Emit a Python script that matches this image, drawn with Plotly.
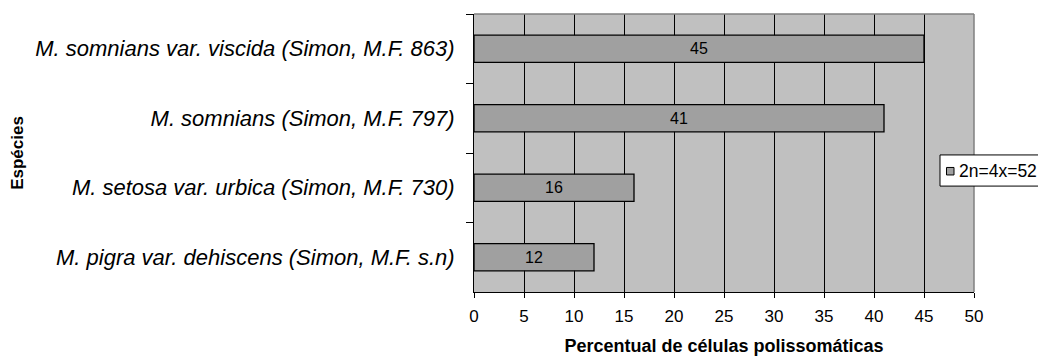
import plotly.graph_objects as go

# Species (top to bottom) and percentage of polysomatic cells
species = [
    "M. somnians var. viscida (Simon, M.F. 863)",
    "M. somnians (Simon, M.F. 797)",
    "M. setosa var. urbica (Simon, M.F. 730)",
    "M. pigra var. dehiscens (Simon, M.F. s.n)",
]
percent = [45, 41, 16, 12]
series_name = "2n=4x=52"
x_ticks = [0, 5, 10, 15, 20, 25, 30, 35, 40, 45, 50]

FONT = "Arial, Liberation Sans, sans-serif"

fig = go.Figure(
    go.Bar(
        y=species,
        x=percent,
        orientation="h",
        name=series_name,
        width=0.39,
        marker=dict(color="#a0a0a0", line=dict(color="#000000", width=1.3)),
        text=[str(v) for v in percent],
        textposition="inside",
        insidetextanchor="middle",
        textangle=0,
        textfont=dict(family=FONT, size=16, color="#000000"),
        showlegend=False,
    )
)

fig.update_layout(
    width=1038,
    height=361,
    margin=dict(l=474, r=64, t=14, b=69, autoexpand=False),
    paper_bgcolor="#ffffff",
    plot_bgcolor="#c0c0c0",
    font=dict(family=FONT, color="#000000"),
    xaxis=dict(
        range=[0, 50],
        tickvals=x_ticks,
        ticktext=[str(t) for t in x_ticks],
        showgrid=True,
        gridcolor="#000000",
        gridwidth=1,
        zeroline=False,
        showline=True,
        linecolor="#000000",
        linewidth=1,
        ticks="outside",
        ticklen=5,
        tickcolor="#000000",
        ticklabelstandoff=4,
        tickfont=dict(family=FONT, size=17),
        title=dict(
            text="<b>Percentual de células polissomáticas</b>",
            font=dict(family=FONT, size=18),
            standoff=13,
        ),
        fixedrange=True,
    ),
    yaxis=dict(
        type="category",
        autorange="reversed",
        showgrid=False,
        zeroline=False,
        showline=True,
        linecolor="#000000",
        linewidth=1,
        ticks="outside",
        tickson="boundaries",
        ticklen=7,
        tickcolor="#000000",
        ticklabelstandoff=14,
        tickfont=dict(family=FONT, size=22, style="italic"),
        title=dict(
            text="<b>Espécies</b>",
            font=dict(family=FONT, size=17),
            standoff=7,
        ),
        fixedrange=True,
    ),
)

# Gray top and right frame of the plot area
fig.add_shape(type="line", xref="paper", yref="paper", x0=0, x1=1, y0=1, y1=1,
              line=dict(color="#808080", width=1.5))
fig.add_shape(type="line", xref="paper", yref="paper", x0=1, x1=1, y0=0, y1=1,
              line=dict(color="#808080", width=1.5))

# Legend box with its swatch and series label
fig.add_shape(type="rect", xref="paper", yref="paper", x0=0.932, x1=1.2, y0=0.381, y1=0.493,
              fillcolor="#ffffff", line=dict(color="#000000", width=1), layer="above")
fig.add_shape(type="rect", xref="paper", yref="paper", x0=0.945, x1=0.96, y0=0.421, y1=0.448,
              fillcolor="#a0a0a0", line=dict(color="#000000", width=1), layer="above")
fig.add_annotation(xref="paper", yref="paper", x=0.965, y=0.435, xanchor="left", yanchor="middle",
                   text=series_name, showarrow=False, font=dict(family=FONT, size=17.5, color="#000000"))

fig.write_html("out.html")
